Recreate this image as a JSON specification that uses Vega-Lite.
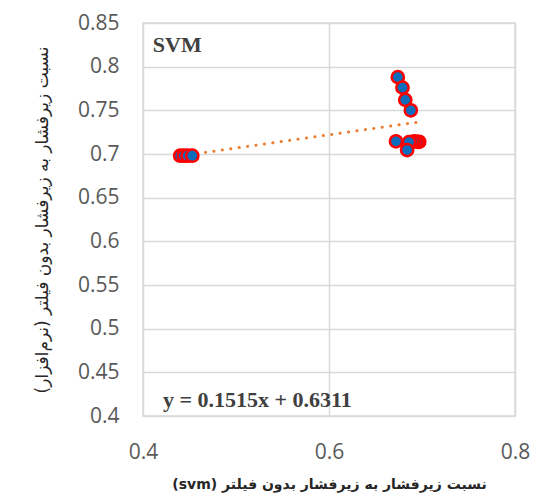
{
  "$schema": "https://vega.github.io/schema/vega-lite/v6.json",
  "autosize": {"type": "none"},
  "width": 372,
  "height": 393,
  "padding": {"left": 143, "top": 23, "right": 29, "bottom": 83},
  "background": "white",
  "config": {
    "view": {"stroke": "#D9D9D9", "strokeWidth": 1.5},
    "axis": {
      "gridColor": "#D9D9D9",
      "gridWidth": 1.5,
      "domain": false,
      "ticks": false,
      "labelFlush": false,
      "labelOverlap": false,
      "labelFont": "Open Sans",
      "labelFontSize": 21,
      "labelColor": "#595959",
      "titleFont": "DejaVu Sans",
      "titleColor": "#262626"
    }
  },
  "datasets": {
    "points": [
      {"x": 0.440, "y": 0.698},
      {"x": 0.444, "y": 0.698},
      {"x": 0.448, "y": 0.698},
      {"x": 0.453, "y": 0.698},
      {"x": 0.674, "y": 0.788},
      {"x": 0.679, "y": 0.776},
      {"x": 0.682, "y": 0.762},
      {"x": 0.688, "y": 0.750},
      {"x": 0.672, "y": 0.7145},
      {"x": 0.697, "y": 0.714},
      {"x": 0.695, "y": 0.714},
      {"x": 0.692, "y": 0.7145},
      {"x": 0.689, "y": 0.714},
      {"x": 0.686, "y": 0.7135},
      {"x": 0.684, "y": 0.7045}
    ],
    "trend": [
      {"x": 0.440, "y": 0.697760},
      {"x": 0.697, "y": 0.736696}
    ],
    "notes": [
      {"x": 0.4105, "y": 0.8171, "label": "SVM"},
      {"x": 0.4215, "y": 0.4101, "label": "y = 0.1515x + 0.6311"}
    ]
  },
  "layer": [
    {
      "data": {"name": "trend"},
      "mark": {
        "type": "line",
        "color": "#ED7D31",
        "strokeWidth": 3,
        "strokeCap": "round",
        "strokeDash": [0.1, 8.4]
      },
      "encoding": {
        "x": {
          "field": "x",
          "type": "quantitative",
          "scale": {"domain": [0.4, 0.8], "nice": false, "zero": false},
          "axis": {
            "values": [0.4, 0.6, 0.8],
            "format": ".1f",
            "labelPadding": 25,
            "title": "‫نسبت زیرفشار به زیرفشار بدون فیلتر (svm)‬",
            "titleFontWeight": "bold",
            "titleFontSize": 14,
            "titlePadding": 15
          }
        },
        "y": {
          "field": "y",
          "type": "quantitative",
          "scale": {"domain": [0.4, 0.85], "nice": false, "zero": false},
          "axis": {
            "values": [0.4, 0.45, 0.5, 0.55, 0.6, 0.65, 0.7, 0.75, 0.8, 0.85],
            "format": "~g",
            "labelPadding": 24,
            "title": "‫نسبت زیرفشار به زیرفشار بدون فیلتر (نرم‌افزار)‬",
            "titleX": -101,
            "titleBaseline": "middle",
            "titleFontWeight": "normal",
            "titleFontSize": 17
          }
        }
      }
    },
    {
      "data": {"name": "points"},
      "mark": {
        "type": "point",
        "shape": "circle",
        "filled": true,
        "fill": "#0A6EBD",
        "stroke": "#FF0000",
        "strokeWidth": 2.5,
        "opacity": 1,
        "size": 150
      },
      "encoding": {
        "x": {"field": "x", "type": "quantitative"},
        "y": {"field": "y", "type": "quantitative"}
      }
    },
    {
      "data": {"name": "notes"},
      "mark": {
        "type": "text",
        "align": "left",
        "baseline": "alphabetic",
        "font": "Liberation Serif",
        "fontWeight": "bold",
        "fontSize": 22,
        "color": "#404040"
      },
      "encoding": {
        "x": {"field": "x", "type": "quantitative"},
        "y": {"field": "y", "type": "quantitative"},
        "text": {"field": "label"}
      }
    }
  ]
}
